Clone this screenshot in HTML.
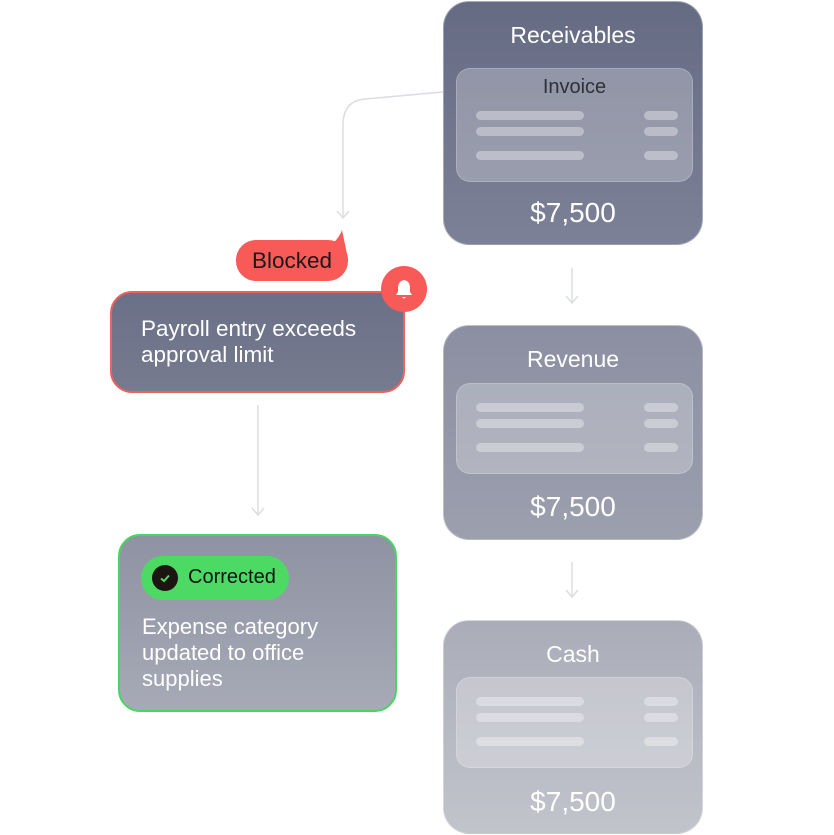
<!DOCTYPE html>
<html><head><meta charset="utf-8"><style>
body{margin:0;width:834px;height:835px;background:#fff;position:relative;overflow:hidden;font-family:"Liberation Sans",sans-serif}
.abs{position:absolute}
.card{position:absolute;left:443px;width:260px;border-radius:26px;box-sizing:border-box;border:1.5px solid rgba(255,255,255,.35);color:#fff;text-align:center}
.title{position:absolute;left:0;right:0;font-size:23px}
.inner{position:absolute;left:12px;width:237px;border-radius:14px;background:rgba(255,255,255,.26);border:1.5px solid rgba(255,255,255,.2);box-sizing:border-box}
.bar{position:absolute;height:9px;border-radius:5px;background:rgba(255,255,255,.35)}
.amt{position:absolute;left:0;right:0;font-size:28px}
</style></head><body>
<svg class="abs" style="left:0;top:0" width="834" height="835">
<g fill="none" stroke="#dcdde2" stroke-width="1.5">
<path d="M443 92 L365 99 Q343 101 343 125 L343 218"/>
<path d="M337 211 L343 218 L349 211"/>
<path d="M572 268 L572 303 M566 296 L572 303 L578 296"/>
<path d="M572 562 L572 597 M566 590 L572 597 L578 590"/>
<path d="M258 405 L258 515 M252 508 L258 515 L264 508"/>
</g></svg>

<div class="card" style="top:1px;height:244px;background:linear-gradient(#656b83,#7c8197)">
<div class="title" style="top:20px">Receivables</div>
<div class="inner" style="top:66px;height:114px"><div style="position:absolute;top:7px;left:0;right:0;color:#2f3038;font-size:20px">Invoice</div>
<div class="bar" style="left:19px;top:42px;width:108px"></div><div class="bar" style="left:187px;top:42px;width:34px"></div>
<div class="bar" style="left:19px;top:58px;width:108px"></div><div class="bar" style="left:187px;top:58px;width:34px"></div>
<div class="bar" style="left:19px;top:82px;width:108px"></div><div class="bar" style="left:187px;top:82px;width:34px"></div></div>
<div class="amt" style="top:195px">$7,500</div></div>

<div class="card" style="top:325px;height:215px;background:linear-gradient(#8b8fa1,#9c9fae)">
<div class="title" style="top:20px">Revenue</div>
<div class="inner" style="top:57px;height:91px">
<div class="bar" style="left:19px;top:19px;width:108px"></div><div class="bar" style="left:187px;top:19px;width:34px"></div>
<div class="bar" style="left:19px;top:35px;width:108px"></div><div class="bar" style="left:187px;top:35px;width:34px"></div>
<div class="bar" style="left:19px;top:59px;width:108px"></div><div class="bar" style="left:187px;top:59px;width:34px"></div></div>
<div class="amt" style="top:165px">$7,500</div></div>

<div class="card" style="top:620px;height:214px;background:linear-gradient(#aaacb9,#c2c4cc)">
<div class="title" style="top:20px">Cash</div>
<div class="inner" style="top:56px;height:91px">
<div class="bar" style="left:19px;top:19px;width:108px"></div><div class="bar" style="left:187px;top:19px;width:34px"></div>
<div class="bar" style="left:19px;top:35px;width:108px"></div><div class="bar" style="left:187px;top:35px;width:34px"></div>
<div class="bar" style="left:19px;top:59px;width:108px"></div><div class="bar" style="left:187px;top:59px;width:34px"></div></div>
<div class="amt" style="top:165px">$7,500</div></div>

<div class="abs" style="left:236px;top:240px;width:112px;height:41px;background:#f85a58;border-radius:20px;"></div>
<svg class="abs" style="left:320px;top:228px" width="30" height="30"><path d="M0 25 Q18 14 22 2 L27 26 Z" fill="#f85a58"/></svg>
<div class="abs" style="left:236px;top:248px;width:112px;text-align:center;font-size:22.5px;color:#1a1a1a">Blocked</div>

<div class="abs" style="left:110px;top:291px;width:295px;height:102px;box-sizing:border-box;border:2px solid #f0605c;border-radius:22px;background:linear-gradient(#6a7087,#767b8f)"></div>
<div class="abs" style="left:141px;top:316px;color:#fff;font-size:22.5px;line-height:26px">Payroll entry exceeds<br>approval limit</div>
<div class="abs" style="left:381px;top:266px;width:46px;height:46px;border-radius:50%;background:#f85a58"></div>
<svg class="abs" style="left:392px;top:277px" width="24" height="24"><path d="M12 3 Q6 4 6 11 L6 15 L4 18 L20 18 L18 15 L18 11 Q18 4 12 3Z" fill="#fff"/><path d="M10 20 Q12 23 14 20Z" fill="#fff"/></svg>

<div class="abs" style="left:118px;top:534px;width:279px;height:178px;box-sizing:border-box;border:2px solid #4ad463;border-radius:22px;background:linear-gradient(#8e92a2,#a7aab6)"></div>
<div class="abs" style="left:141px;top:556px;width:148px;height:44px;border-radius:22px;background:#4cd964"></div>
<div class="abs" style="left:152px;top:565px;width:26px;height:26px;border-radius:50%;background:#1c1512"></div>
<svg class="abs" style="left:152px;top:565px" width="26" height="26"><path d="M9 13.5 L12 16 L17 10.5" stroke="#4cd964" stroke-width="2" fill="none"/></svg>
<div class="abs" style="left:188px;top:566px;font-size:20px;color:#111">Corrected</div>
<div class="abs" style="left:142px;top:614px;color:#fff;font-size:22px;line-height:26px">Expense category<br>updated to office<br>supplies</div>
</body></html>
